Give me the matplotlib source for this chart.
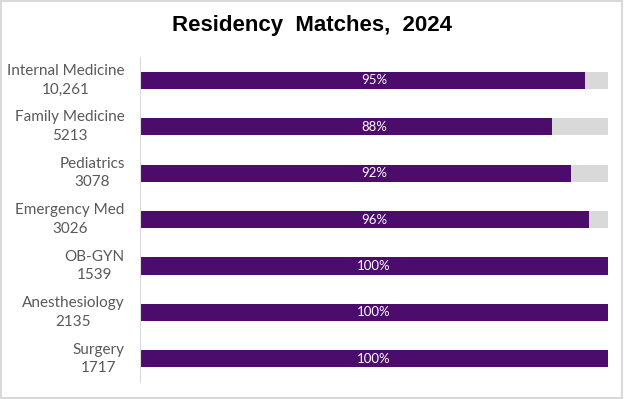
import matplotlib
matplotlib.use('Agg')
import matplotlib.pyplot as plt
from matplotlib.patches import Rectangle

specialties = ['Internal Medicine', 'Family Medicine', 'Pediatrics', 'Emergency Med',
               'OB-GYN', 'Anesthesiology', 'Surgery']
positions = ['10,261', '5213', '3078', '3026', '1539', '2135', '1717']
match_pct = [95, 88, 92, 96, 100, 100, 100]

purple = '#4b0c6b'
gray = '#d9d9d9'

fig = plt.figure(figsize=(6.24, 3.99), dpi=100)
ax = fig.add_axes([0.2244, 0.0426, 0.7500, 0.8144])

y = list(range(len(specialties)))
ax.barh(y, [100] * len(y), height=0.37, color=gray)
ax.barh(y, match_pct, height=0.37, color=purple)
for i, p in enumerate(match_pct):
    ax.text(50, i, f'{p}%', color='white', ha='center', va='center',
            fontsize=9.5, family='Lato')

ax.set_xlim(0, 100)
ax.set_ylim(len(y) - 0.5, -0.5)
ax.set_yticks(y)
labels = ax.set_yticklabels([f'{s}\n{n}' for s, n in zip(specialties, positions)],
                            family='Lato', fontsize=11, color='#595959', linespacing=1.4)
for lb in labels:
    lb.set_multialignment('center')
    lb.set_va('center')
ax.tick_params(axis='y', length=0, pad=11)
ax.set_xticks([])
for side in ['top', 'right', 'bottom']:
    ax.spines[side].set_visible(False)
ax.spines['left'].set_color(gray)

fig.text(0.5, 0.937, 'Residency  Matches,  2024', ha='center', va='center',
         fontsize=16, fontweight='bold', family='Liberation Sans')
fig.patches.append(Rectangle((0.002, 0.003), 0.995, 0.994, transform=fig.transFigure,
                             fill=False, edgecolor=gray, linewidth=1.5))

fig.savefig('out.png', dpi=100)
